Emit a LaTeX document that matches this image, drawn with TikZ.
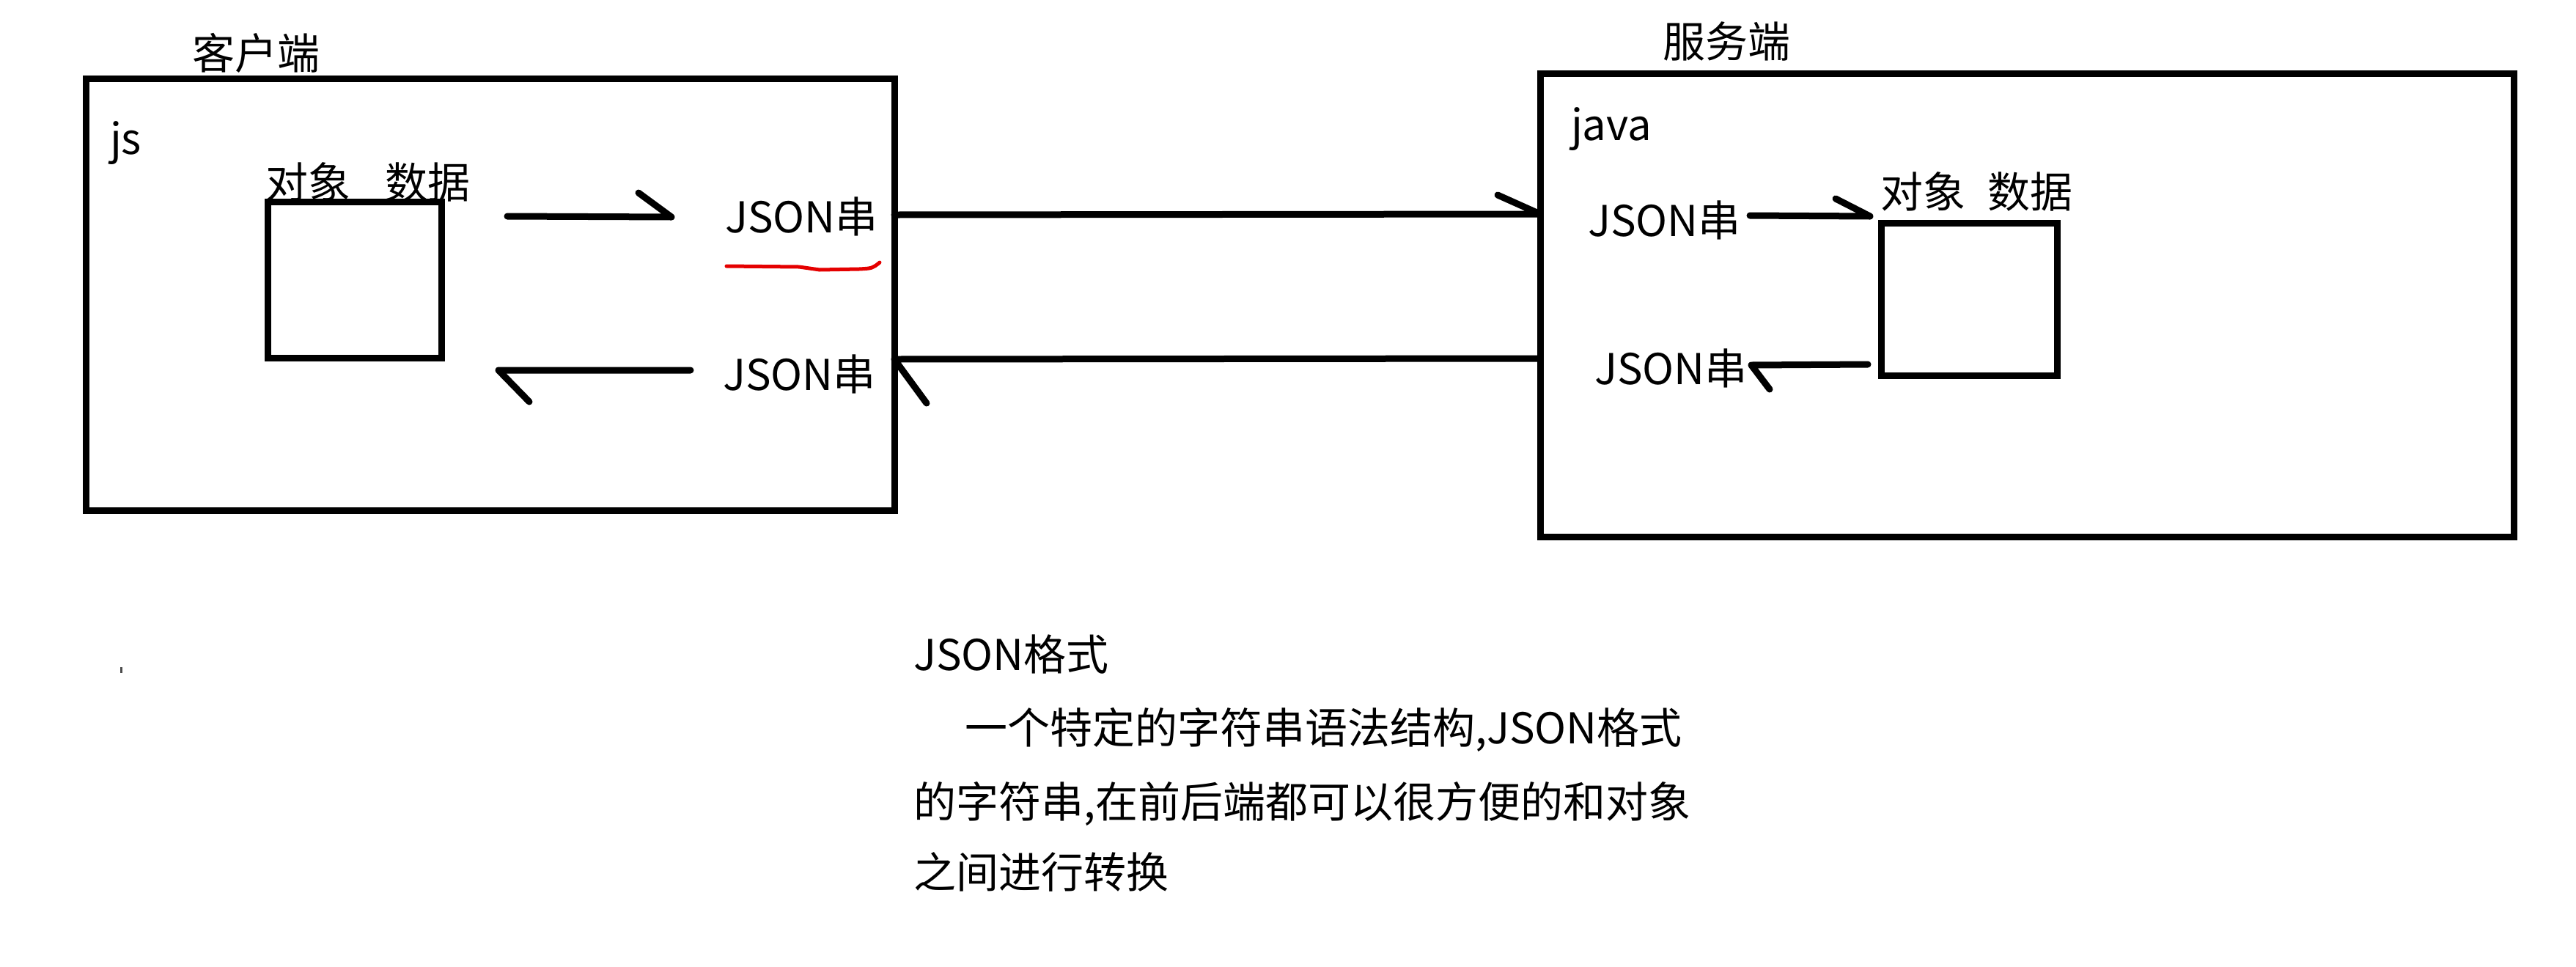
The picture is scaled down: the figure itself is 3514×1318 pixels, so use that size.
\documentclass[tikz,border=0pt]{standalone}
\usepackage{fontspec}
\setmainfont{Noto Sans CJK SC}
\begin{document}
\begin{tikzpicture}[x=1pt,y=-1pt,
  lbl/.style={anchor=base west,inner sep=0pt,outer sep=0pt,font=\fontsize{58}{70}\selectfont},
  frame/.style={draw=black,line width=9pt,rectangle,inner sep=0pt,outer sep=0pt},
  conn/.style={draw=black,line width=9pt,line cap=round,line join=round},
  redmark/.style={draw=red!90!black,line width=5pt,line cap=round,line join=round}]
\useasboundingbox (0,0) rectangle (3514,1318);
\fill[white] (0,0) rectangle (3514,1318);
% frames
\node[frame,minimum width=1103pt,minimum height=589pt] (client) at (668.5,401.5) {};
\node[frame,minimum width=1328pt,minimum height=632pt] (server) at (2765,416) {};
\node[frame,minimum width=237pt,minimum height=213pt] (lobj) at (483.5,381.5) {};
\node[frame,minimum width=240pt,minimum height=208pt] (robj) at (2686,408) {};
% labels
\node[lbl] (tclient) at (262,94) {客户端};
\node[lbl] (tserver) at (2268,78) {服务端};
\node[lbl] (tjs) at (150,210) {js};
\node[lbl] (tjava) at (2143,191) {java};
\node[lbl] (tlobj) at (362,270) {对象\hspace{0.82em}数据};
\node[lbl] (trobj) at (2565,283) {对象\hspace{0.52em}数据};
\node[lbl] (jl1) at (989,317) {JSON串};
\node[lbl] (jl2) at (986,532) {JSON串};
\node[lbl] (jr1) at (2166,322) {JSON串};
\node[lbl] (jr2) at (2175,524) {JSON串};
\node[lbl] (b1) at (1246,914) {JSON格式};
\node[lbl] (b2) at (1316,1014) {一个特定的字符串语法结构,JSON格式};
\node[lbl] (b3) at (1246,1115) {的字符串,在前后端都可以很方便的和对象};
\node[lbl] (b4) at (1246,1211) {之间进行转换};
% tiny dot
\fill[black!70] (164,910) rectangle (167,918);
% connector end points
\coordinate (a1s) at (692,295);   \coordinate (a1t) at (916,296);
\coordinate (a2s) at (942,505);   \coordinate (a2t) at (680,505);
\coordinate (a3s) at (client.east |- 0,293); \coordinate (a3t) at (server.west |- 0,292);
\coordinate (a4s) at (server.west |- 0,489); \coordinate (a4t) at (client.east |- 0,490);
\coordinate (a5s) at (2387,294);  \coordinate (a5t) at (2551,295);
\coordinate (a6s) at (2548,497);  \coordinate (a6t) at (2389,498);
% connectors with single barbs
\draw[conn] (a1s) -- (a1t) -- ++(-45,-33);
\draw[conn] (a2s) -- (a2t) -- ++(42,43);
\draw[conn] (a3s) -- (a3t) -- ++(-58,-26);
\draw[conn] (a4s) -- (a4t) -- ++(44,60);
\draw[conn] (a5s) -- (a5t) -- ++(-47,-24);
\draw[conn] (a6s) -- (a6t) -- ++(25,33);
% red underline
\draw[redmark] (991,363) -- (1090,364) -- (1118,368) -- (1172,367) .. controls (1190,366) .. (1200,358);
\end{tikzpicture}
\end{document}
